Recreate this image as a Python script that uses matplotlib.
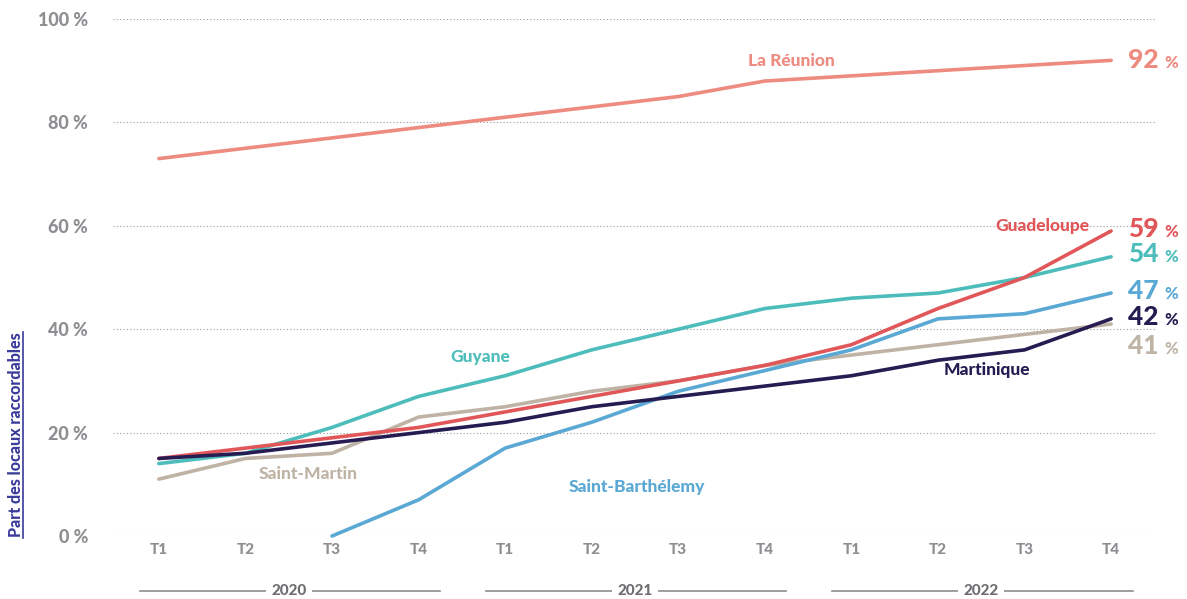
import matplotlib
matplotlib.use("Agg")
import matplotlib.pyplot as plt
from matplotlib.lines import Line2D
import matplotlib.transforms as mtransforms

plt.rcParams['font.family'] = ['Lato', 'DejaVu Sans']

trimestres = ['T1', 'T2', 'T3', 'T4'] * 3
annees = ['2020', '2021', '2022']

reunion = [73, 75, 77, 79, 81, 83, 85, 88, 89, 90, 91, 92]
guadeloupe = [15, 17, 19, 21, 24, 27, 30, 33, 37, 44, 50, 59]
guyane = [14, 16, 21, 27, 31, 36, 40, 44, 46, 47, 50, 54]
st_barth = [None, None, 0, 7, 17, 22, 28, 32, 36, 42, 43, 47]
martinique = [15, 16, 18, 20, 22, 25, 27, 29, 31, 34, 36, 42]
st_martin = [11, 15, 16, 23, 25, 28, 30, 33, 35, 37, 39, 41]

noms = ['La Réunion', 'Guadeloupe', 'Guyane', 'Saint-Barthélemy', 'Martinique', 'Saint-Martin']
series = [reunion, guadeloupe, guyane, st_barth, martinique, st_martin]
couleurs = ['#EE8B80', '#E15759', '#4DBDBB', '#5AA8D4', '#261C52', '#BFB3A5']
# position des noms (x, y en donnees)
pos_noms = [(7.31, 91.9), (10.21, 60.0), (3.71, 34.6), (5.52, 9.5), (9.57, 32.1), (1.72, 12.0)]
# position des valeurs finales (y en donnees)
pos_fin = [92, 59.3, 54.5, 47.3, 42.3, 36.8]

fig = plt.figure(figsize=(11.87, 5.99), dpi=100)
ax = fig.add_axes([113 / 1187, 1 - 536 / 599, (1157 - 113) / 1187, (536 - 19) / 599])

x = list(range(len(trimestres)))
ordre = [0, 5, 2, 3, 1, 4]
for i in ordre:
    xs = [a for a, v in zip(x, series[i]) if v is not None]
    ys = [v for v in series[i] if v is not None]
    ax.plot(xs, ys, color=couleurs[i], lw=2.6, clip_on=False, solid_capstyle='round', zorder=3)

ax.set_xlim(-0.53, 11.53)
ax.set_ylim(0, 100)
ax.set_yticks([0, 20, 40, 60, 80, 100])
ax.set_yticklabels([f'{v} %' for v in [0, 20, 40, 60, 80, 100]])
ax.set_xticks(x)
ax.set_xticklabels(trimestres)
ax.tick_params(length=0, labelsize=11, colors='#8e8e92', pad=5)
ax.tick_params(axis='y', pad=18, labelsize=13)
for lab in ax.get_xticklabels() + ax.get_yticklabels():
    lab.set_fontweight('black')
ax.grid(axis='y', color='#9a9a9a', lw=0.8, ls=(0, (1, 2)))
ax.set_axisbelow(True)
for s in ax.spines.values():
    s.set_visible(False)

for i, (nx, ny) in enumerate(pos_noms):
    ax.text(nx, ny, noms[i], color=couleurs[i], fontsize=12.5, fontweight='black', ha='center', va='center')

fig.canvas.draw()
renderer = fig.canvas.get_renderer()
for i, y in enumerate(pos_fin):
    t = ax.text(11.2, y, str(series[i][-1]), color=couleurs[i], fontsize=19, fontweight='black',
                ha='left', va='center')
    bb = t.get_window_extent(renderer)
    w = bb.width / fig.dpi
    tr = mtransforms.offset_copy(ax.transData, fig=fig, x=w * 72 + 4, y=-2, units='points')
    ax.text(11.2, y, '%', color=couleurs[i], fontsize=12, fontweight='black', ha='left', va='center',
            transform=tr)

# annees sous l'axe
yb = -0.106
trans = mtransforms.blended_transform_factory(ax.transData, ax.transAxes)
for k, an in enumerate(annees):
    x0 = 4 * k - 0.22
    x1 = 4 * k + 3.25
    ax.add_line(Line2D([x0, x1], [yb, yb], transform=trans, color='#8e8e92', lw=1.2, clip_on=False))
    ax.text(4 * k + 1.5, yb, an, transform=trans, ha='center', va='center', fontsize=11,
            fontweight='black', color='#6e6e72',
            bbox=dict(facecolor='white', edgecolor='none', pad=4))

fig.text(16 / 1187, 1 - 435 / 599, 'Part des locaux raccordables', rotation=90, ha='center', va='center',
         fontsize=11.5, fontweight='black', color='#3A3A9A')
fig.add_artist(Line2D([23 / 1187, 23 / 1187], [1 - 538 / 599, 1 - 332 / 599], color='#3A3A9A', lw=1.2))

fig.savefig('out.png', dpi=100)
